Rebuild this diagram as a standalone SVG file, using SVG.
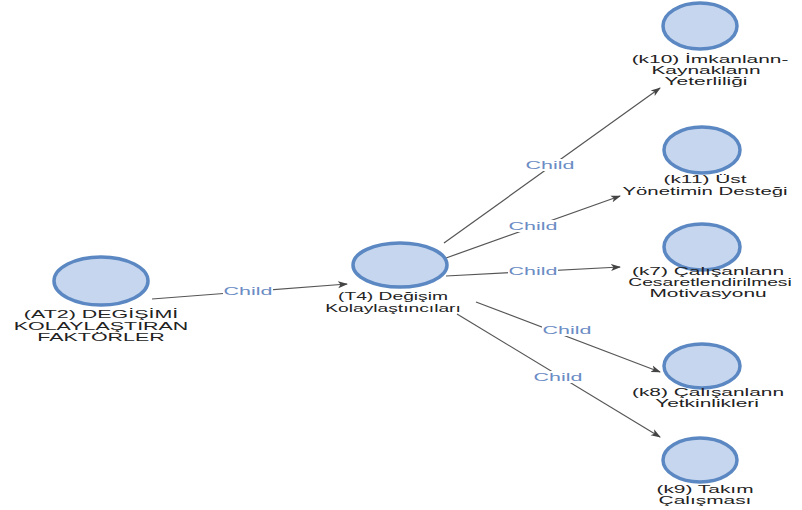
<svg xmlns="http://www.w3.org/2000/svg" width="802" height="510" viewBox="0 0 802 510">
<defs>
<marker id="arr" viewBox="0 0 10 10" refX="9" refY="5" markerWidth="10" markerHeight="10" orient="auto" markerUnits="userSpaceOnUse">
<path d="M0,1.5 L10,5 L0,8.5 L2.5,5 Z" fill="#444"/>
</marker>
<style>
.node ellipse{fill:#c6d6ef;stroke:#5b88c2;stroke-width:3.5}
.node text{font-family:"Liberation Sans",Arial,sans-serif;font-size:11px;fill:#222;text-anchor:middle}
.edge line{stroke:#555;stroke-width:1.2;marker-end:url(#arr)}
.lbl rect{fill:#fff}
.lbl text{font-family:"Liberation Sans",Arial,sans-serif;font-size:11px;fill:#6b8cc4;text-anchor:middle}
</style>
</defs>
<rect width="802" height="510" fill="#fff"/>
<g id="connectors">
<g class="edge">
<line x1="152" y1="299" x2="347" y2="284"/>
<line x1="444" y1="243" x2="660" y2="88"/>
<line x1="446" y1="258" x2="620" y2="196"/>
<line x1="446" y1="276" x2="620" y2="267"/>
<line x1="476" y1="302" x2="660" y2="372"/>
<line x1="457" y1="314" x2="660" y2="437"/>
</g>
<g class="lbl">
<rect x="223" y="284" width="50" height="12"/><text transform="translate(248,295) scale(1.95,1)">Child</text>
<rect x="525" y="159" width="50" height="12"/><text transform="translate(550,169) scale(1.95,1)">Child</text>
<rect x="508" y="220" width="50" height="12"/><text transform="translate(533,230) scale(1.95,1)">Child</text>
<rect x="508" y="265" width="50" height="12"/><text transform="translate(533,275) scale(1.95,1)">Child</text>
<rect x="542" y="324" width="50" height="12"/><text transform="translate(567,334) scale(1.95,1)">Child</text>
<rect x="533" y="371" width="50" height="12"/><text transform="translate(558,381) scale(1.95,1)">Child</text>
</g>
</g>
<g id="AT2" class="node">
<ellipse cx="101" cy="281" rx="47" ry="24"/>
<text transform="translate(101,318) scale(1.95,1)">(AT2) DEGİŞİMİ</text>
<text transform="translate(101,330) scale(1.95,1)">KOLAYLAŞTIRAN</text>
<text transform="translate(101,341) scale(1.95,1)">FAKTÖRLER</text>
</g>
<g id="T4" class="node">
<ellipse cx="400" cy="265" rx="47" ry="22"/>
<text transform="translate(393,300) scale(1.75,1)">(T4) Değişim</text>
<text transform="translate(393,312) scale(1.75,1)">Kolaylaştıncıları</text>
</g>
<g id="k10" class="node">
<ellipse cx="700" cy="26" rx="37" ry="23"/>
<text transform="translate(710,63) scale(1.9,1)">(k10) İmkanlann-</text>
<text transform="translate(706,74) scale(1.9,1)">Kaynaklann</text>
<text transform="translate(706,85) scale(1.9,1)">Yeterliliği</text>
</g>
<g id="k11" class="node">
<ellipse cx="702" cy="150" rx="38" ry="23"/>
<text transform="translate(705,183) scale(1.9,1)">(k11) Üst</text>
<text transform="translate(705,195) scale(1.85,1)">Yönetimin Desteği</text>
</g>
<g id="k7" class="node">
<ellipse cx="702" cy="247" rx="38" ry="23"/>
<text transform="translate(708,275) scale(1.9,1)">(k7) Çalışanlann</text>
<text transform="translate(710,286) scale(1.75,1)">Cesaretlendirilmesi</text>
<text transform="translate(708,297) scale(1.9,1)">Motivasyonu</text>
</g>
<g id="k8" class="node">
<ellipse cx="702" cy="366" rx="38" ry="22"/>
<text transform="translate(708,396) scale(1.9,1)">(k8) Çalışanlann</text>
<text transform="translate(707,407) scale(1.9,1)">Yetkinlikleri</text>
</g>
<g id="k9" class="node">
<ellipse cx="700" cy="460" rx="37" ry="22"/>
<text transform="translate(705,493) scale(1.9,1)">(k9) Takım</text>
<text transform="translate(705,504) scale(1.9,1)">Çalışması</text>
</g>
</svg>
